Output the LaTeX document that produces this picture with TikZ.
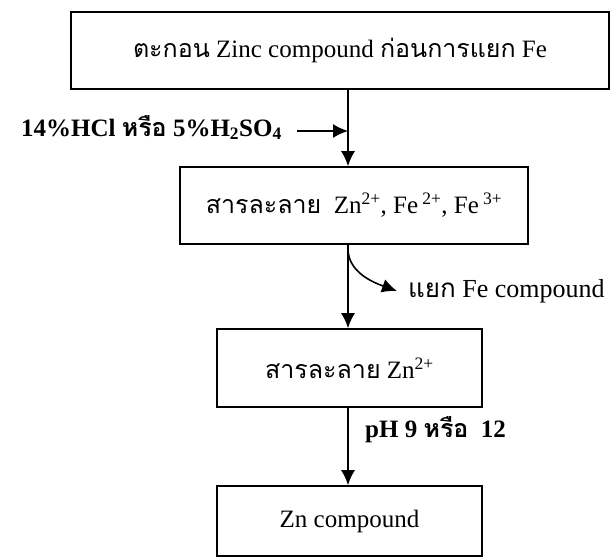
\documentclass[tikz,border=0pt]{standalone}
\usepackage{fontspec}
\setmainfont{Liberation Serif}
\newfontfamily\thaifont[Script=Thai]{Loma}
\newcommand{\thai}[1]{{\thaifont #1}}
\usetikzlibrary{arrows.meta}
\usetikzlibrary{positioning}

\tikzset{
  stagebox/.style={draw, line width=1.6pt, inner sep=0pt,
    font=\fontsize{25}{28}\selectfont},
  flow/.style={line width=1.6pt, -{Latex[length=15pt,width=14pt]}},
  note/.style={inner sep=0pt, font=\fontsize{26}{29}\selectfont},
  boldnote/.style={inner sep=0pt, font=\fontsize{25}{28}\selectfont\bfseries},
}

\begin{document}
\begin{tikzpicture}[x=1pt,y=-1pt]
  \useasboundingbox (0,0) rectangle (611,558);
  \coordinate (spine) at (348,0);

  % stages
  \node[stagebox, minimum width=538pt, minimum height=77pt] (residue) at (340,50.5)
    {\thai{ตะกอน} Zinc compound \thai{ก่อนการแยก} Fe};
  \node[stagebox, minimum width=348pt, minimum height=77pt] (leach) at (354,205.5)
    {\thai{สารละลาย}\ \ Zn\textsuperscript{2+}, Fe\,\textsuperscript{2+}, Fe\,\textsuperscript{3+}};
  \node[stagebox, minimum width=265pt, minimum height=78pt] (zinc) at (349.5,368)
    {\thai{สารละลาย} Zn\textsuperscript{2+}};
  \node[stagebox, minimum width=265pt, minimum height=70pt] (product) at (349.5,521)
    {Zn compound};

  % side labels
  \node[boldnote, anchor=base east] (acid) at (282,136)
    {14\%HCl \thai{หรือ} 5\%H\textsubscript{2}SO\textsubscript{4}};
  \coordinate (feed) at (297,131);
  \node[note, anchor=base west] (iron) at (408,297) {\thai{แยก} Fe compound};
  \coordinate (fork) at (348,250);
  \coordinate (sink) at (397,291);
  \node[boldnote, anchor=base west] (ph) at (365,437) {pH 9 \thai{หรือ}\ \ 12};

  % connectors
  \draw[flow] (residue.south -| spine) -- (leach.north -| spine);
  \draw[flow] (feed) -- (feed -| spine);
  \draw[flow] (leach.south -| spine) -- (zinc.north -| spine);
  \draw[flow] (fork) .. controls (349,272) and (372,282) .. (sink);
  \draw[flow] (zinc.south -| spine) -- (product.north -| spine);
\end{tikzpicture}
\end{document}
